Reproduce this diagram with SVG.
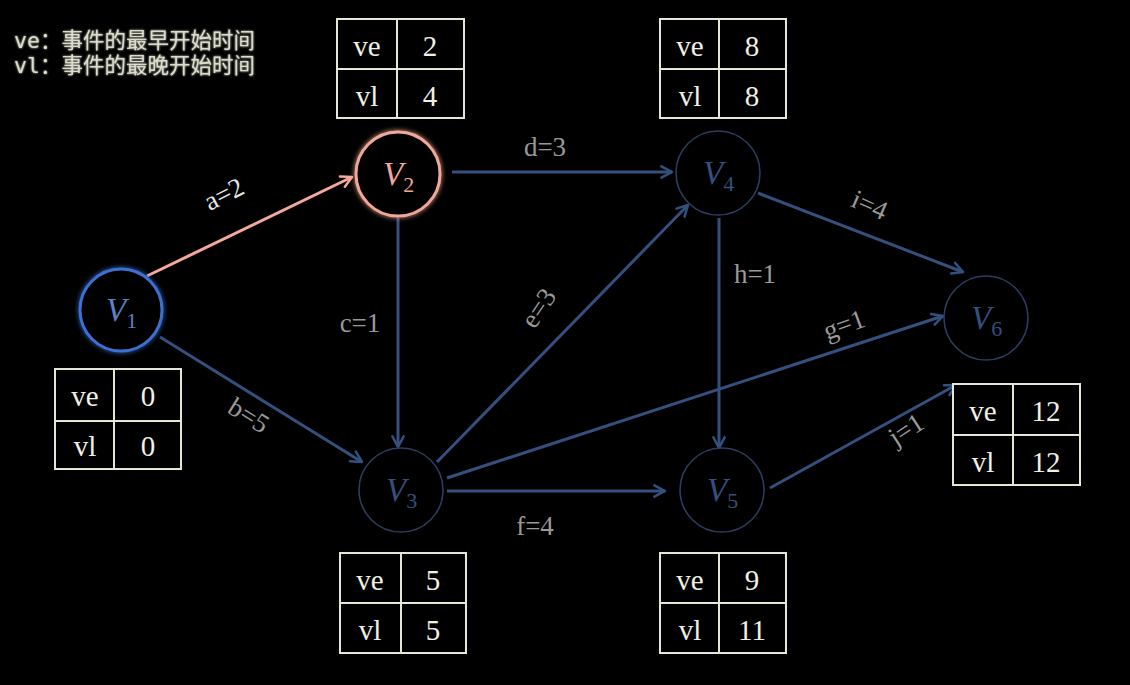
<svg xmlns="http://www.w3.org/2000/svg" width="1130" height="685" viewBox="0 0 1130 685">
  <defs>
    <style>
      .edge { stroke: #34507e; stroke-width: 3; fill: none; marker-end: url(#arrowBlue); }
      .edge-hot { stroke: #f4a99b; stroke-width: 3; fill: none; marker-end: url(#arrowPink); }
      .node { fill: #000; stroke: #2b3d60; stroke-width: 1.6; }
      .nlabel { font-family: "Liberation Serif", "DejaVu Serif", serif; font-style: italic; fill: #34507e; font-size: 33px; }
      .sub { font-size: 22px; font-style: normal; }
      .elabel { font-family: "Liberation Serif", "DejaVu Serif", serif; font-size: 27px; fill: #9a9a9a; text-anchor: middle; }
      .tbl { fill: #000; stroke: #e6e6d6; stroke-width: 2; }
      .tline { stroke: #e6e6d6; stroke-width: 2; }
      .ttext { font-family: "Liberation Serif", "DejaVu Serif", serif; font-size: 29px; fill: #f0f0e4; text-anchor: middle; }
      .legend { font-family: "DejaVu Sans Mono", "Noto Sans CJK SC", monospace; font-size: 21.5px; fill: #dcdccc; }
    </style>
    <marker id="arrowBlue" viewBox="0 0 12 12" refX="10" refY="6" markerWidth="15" markerHeight="15" orient="auto" markerUnits="userSpaceOnUse">
      <path d="M1.5,1.5 L10,6 L1.5,10.5" fill="none" stroke="#34507e" stroke-width="2" stroke-linecap="round" stroke-linejoin="round"/>
    </marker>
    <marker id="arrowPink" viewBox="0 0 12 12" refX="10" refY="6" markerWidth="15" markerHeight="15" orient="auto" markerUnits="userSpaceOnUse">
      <path d="M1.5,1.5 L10,6 L1.5,10.5" fill="none" stroke="#f4a99b" stroke-width="2" stroke-linecap="round" stroke-linejoin="round"/>
    </marker>
    <filter id="glow" x="-30%" y="-30%" width="160%" height="160%">
      <feGaussianBlur stdDeviation="2.5" result="b"/>
      <feMerge><feMergeNode in="b"/><feMergeNode in="SourceGraphic"/></feMerge>
    </filter>
    <filter id="soft" x="-10%" y="-30%" width="120%" height="160%">
      <feGaussianBlur stdDeviation="0.8" result="b"/>
      <feMerge><feMergeNode in="b"/><feMergeNode in="SourceGraphic"/></feMerge>
    </filter>
  </defs>

  <rect width="1130" height="685" fill="#000"/>

  <!-- legend -->
  <g id="legend" filter="url(#soft)">
    <text class="legend" x="14" y="48">ve：事件的最早开始时间</text>
    <text class="legend" x="14" y="73">vl：事件的最晚开始时间</text>
  </g>

  <!-- connectors -->
  <g id="edges">
    <line class="edge-hot" x1="147" y1="276" x2="352" y2="177"/>
    <line class="edge" x1="160" y1="337" x2="362" y2="462"/>
    <line class="edge" x1="398" y1="218" x2="398" y2="447"/>
    <line class="edge" x1="452" y1="172" x2="672" y2="172"/>
    <line class="edge" x1="437" y1="462" x2="688" y2="205"/>
    <line class="edge" x1="447" y1="491" x2="665" y2="491"/>
    <line class="edge" x1="447" y1="478" x2="943" y2="316"/>
    <line class="edge" x1="719" y1="218" x2="719" y2="448"/>
    <line class="edge" x1="758" y1="193" x2="963" y2="272"/>
    <line class="edge" x1="770" y1="488" x2="956" y2="385"/>
  </g>

  <!-- edge labels -->
  <g id="edge-labels">
    <text class="elabel" style="fill:#e6e6e6" transform="translate(228,202) rotate(-27)">a=2</text>
    <text class="elabel" transform="translate(244,423) rotate(32)">b=5</text>
    <text class="elabel" x="360" y="332">c=1</text>
    <text class="elabel" x="545" y="156">d=3</text>
    <text class="elabel" transform="translate(546,313) rotate(-56)">e=3</text>
    <text class="elabel" x="535" y="535">f=4</text>
    <text class="elabel" transform="translate(847,333) rotate(-20)">g=1</text>
    <text class="elabel" x="755" y="283">h=1</text>
    <text class="elabel" transform="translate(866,213) rotate(24)">i=4</text>
    <text class="elabel" transform="translate(911,437) rotate(-33)">j=1</text>
  </g>

  <!-- nodes -->
  <g id="V1">
    <circle cx="121" cy="310" r="41" fill="#000" stroke="#3c6fd2" stroke-width="3" filter="url(#glow)"/>
    <text class="nlabel" x="106" y="321" style="fill:#5a82c8">V<tspan class="sub" dy="7">1</tspan></text>
  </g>
  <g id="V2">
    <circle cx="398" cy="174" r="42" fill="#000" stroke="#f2a898" stroke-width="3" filter="url(#glow)"/>
    <text class="nlabel" x="383" y="185" style="fill:#f2a898">V<tspan class="sub" dy="7">2</tspan></text>
  </g>
  <g id="V3">
    <circle class="node" cx="401" cy="490" r="42"/>
    <text class="nlabel" x="386" y="501">V<tspan class="sub" dy="7">3</tspan></text>
  </g>
  <g id="V4">
    <circle class="node" cx="718" cy="173" r="42"/>
    <text class="nlabel" x="703" y="184">V<tspan class="sub" dy="7">4</tspan></text>
  </g>
  <g id="V5">
    <circle class="node" cx="722" cy="490" r="42"/>
    <text class="nlabel" x="707" y="501">V<tspan class="sub" dy="7">5</tspan></text>
  </g>
  <g id="V6">
    <circle class="node" cx="986" cy="318" r="42"/>
    <text class="nlabel" x="971" y="329">V<tspan class="sub" dy="7">6</tspan></text>
  </g>

  <!-- ve / vl tables -->
  <g id="table-V1">
    <rect class="tbl" x="55" y="369" width="126" height="100"/>
    <line class="tline" x1="114" y1="369" x2="114" y2="469"/>
    <line class="tline" x1="55" y1="421" x2="181" y2="421"/>
    <text class="ttext" x="85" y="406">ve</text><text class="ttext" x="148" y="406">0</text>
    <text class="ttext" x="85" y="456">vl</text><text class="ttext" x="148" y="456">0</text>
  </g>
  <g id="table-V2">
    <rect class="tbl" x="337" y="19" width="127" height="99"/>
    <line class="tline" x1="397" y1="19" x2="397" y2="118"/>
    <line class="tline" x1="337" y1="69" x2="464" y2="69"/>
    <text class="ttext" x="367" y="56">ve</text><text class="ttext" x="430" y="56">2</text>
    <text class="ttext" x="367" y="106">vl</text><text class="ttext" x="430" y="106">4</text>
  </g>
  <g id="table-V4">
    <rect class="tbl" x="660" y="19" width="126" height="99"/>
    <line class="tline" x1="719" y1="19" x2="719" y2="118"/>
    <line class="tline" x1="660" y1="69" x2="786" y2="69"/>
    <text class="ttext" x="690" y="56">ve</text><text class="ttext" x="752" y="56">8</text>
    <text class="ttext" x="690" y="106">vl</text><text class="ttext" x="752" y="106">8</text>
  </g>
  <g id="table-V3">
    <rect class="tbl" x="340" y="553" width="126" height="100"/>
    <line class="tline" x1="401" y1="553" x2="401" y2="653"/>
    <line class="tline" x1="340" y1="603" x2="466" y2="603"/>
    <text class="ttext" x="370" y="590">ve</text><text class="ttext" x="433" y="590">5</text>
    <text class="ttext" x="370" y="640">vl</text><text class="ttext" x="433" y="640">5</text>
  </g>
  <g id="table-V5">
    <rect class="tbl" x="660" y="553" width="126" height="100"/>
    <line class="tline" x1="719" y1="553" x2="719" y2="653"/>
    <line class="tline" x1="660" y1="603" x2="786" y2="603"/>
    <text class="ttext" x="690" y="590">ve</text><text class="ttext" x="752" y="590">9</text>
    <text class="ttext" x="690" y="640">vl</text><text class="ttext" x="752" y="640">11</text>
  </g>
  <g id="table-V6">
    <rect class="tbl" x="953" y="384" width="127" height="101"/>
    <line class="tline" x1="1013" y1="384" x2="1013" y2="485"/>
    <line class="tline" x1="953" y1="435" x2="1080" y2="435"/>
    <text class="ttext" x="983" y="421">ve</text><text class="ttext" x="1046" y="421">12</text>
    <text class="ttext" x="983" y="472">vl</text><text class="ttext" x="1046" y="472">12</text>
  </g>
</svg>
